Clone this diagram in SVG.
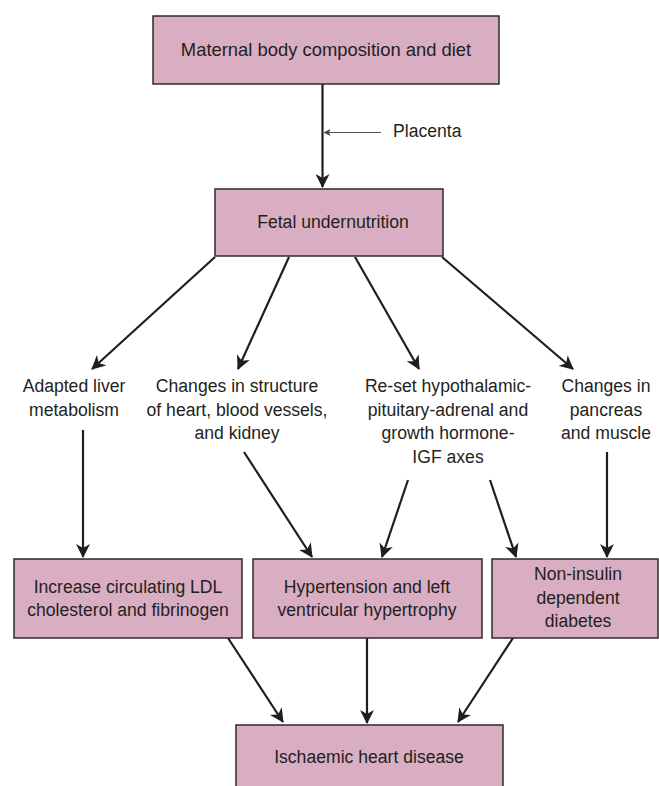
<svg xmlns="http://www.w3.org/2000/svg" width="659" height="786" viewBox="0 0 659 786">
<defs>
<style>
.box{fill:#d9aec3;stroke:#2b2b2b;stroke-width:1.5}
.t{font-family:"Liberation Sans",Arial,sans-serif;font-size:17.6px;fill:#231f20;text-anchor:middle}
.c{stroke:#1e1e1e;stroke-width:2.2;fill:none;marker-end:url(#ah)}
.thin{stroke:#555;stroke-width:1.2;fill:none;marker-end:url(#sh)}
</style>
<marker id="ah" viewBox="0 0 14 14" refX="13" refY="7" markerWidth="14" markerHeight="14" markerUnits="userSpaceOnUse" orient="auto">
<path d="M0,0 L14,7 L0,14 L4,7 z" fill="#1e1e1e"/>
</marker>
<marker id="sh" viewBox="0 0 8 8" refX="7" refY="4" markerWidth="7" markerHeight="7" markerUnits="userSpaceOnUse" orient="auto">
<path d="M0,0 L8,4 L0,8 L2,4 z" fill="#444"/>
</marker>
</defs>
<rect width="659" height="786" fill="#fff"/>
<g id="connectors">
<line class="c" x1="322.5" y1="84" x2="322.5" y2="187"/>
<line class="thin" x1="381" y1="132.5" x2="324.5" y2="132.5"/>
<line class="c" x1="215" y1="257" x2="92" y2="369"/>
<line class="c" x1="289" y1="257" x2="238" y2="369"/>
<line class="c" x1="355" y1="257" x2="419" y2="369"/>
<line class="c" x1="442" y1="257" x2="573" y2="369"/>
<line class="c" x1="83" y1="430" x2="83" y2="557"/>
<line class="c" x1="244" y1="452" x2="312" y2="557"/>
<line class="c" x1="408" y1="480" x2="382" y2="557"/>
<line class="c" x1="490" y1="480" x2="516" y2="557"/>
<line class="c" x1="607" y1="452" x2="607" y2="557"/>
<line class="c" x1="228" y1="638" x2="283" y2="722"/>
<line class="c" x1="367" y1="638" x2="367" y2="723"/>
<line class="c" x1="513" y1="638" x2="458" y2="722"/>
</g>
<g id="maternal">
<rect class="box" x="153" y="16" width="346" height="68"/>
<text class="t" x="326" y="56" style="font-size:18.4px">Maternal body composition and diet</text>
</g>
<g id="placenta">
<text class="t" x="393" y="137" style="text-anchor:start">Placenta</text>
</g>
<g id="fetal">
<rect class="box" x="215" y="189" width="228" height="67"/>
<text class="t" x="333" y="228">Fetal undernutrition</text>
</g>
<g id="liver">
<text class="t" x="74" y="392">Adapted liver</text>
<text class="t" x="74" y="415.5">metabolism</text>
</g>
<g id="structure">
<text class="t" x="237" y="392">Changes in structure</text>
<text class="t" x="237" y="415.5">of heart, blood vessels,</text>
<text class="t" x="237" y="439">and kidney</text>
</g>
<g id="hpa">
<text class="t" x="448" y="392">Re-set hypothalamic-</text>
<text class="t" x="448" y="415.5">pituitary-adrenal and</text>
<text class="t" x="448" y="439">growth hormone-</text>
<text class="t" x="448" y="462.5">IGF axes</text>
</g>
<g id="pancreas">
<text class="t" x="606" y="392">Changes in</text>
<text class="t" x="606" y="415.5">pancreas</text>
<text class="t" x="606" y="439">and muscle</text>
</g>
<g id="ldl">
<rect class="box" x="14" y="559" width="228" height="79"/>
<text class="t" x="128" y="593">Increase circulating LDL</text>
<text class="t" x="128" y="616">cholesterol and fibrinogen</text>
</g>
<g id="hypertension">
<rect class="box" x="253" y="559" width="229" height="79"/>
<text class="t" x="367" y="593">Hypertension and left</text>
<text class="t" x="367" y="616">ventricular hypertrophy</text>
</g>
<g id="diabetes">
<rect class="box" x="492" y="559" width="166" height="79"/>
<text class="t" x="578" y="580">Non-insulin</text>
<text class="t" x="578" y="603.5">dependent</text>
<text class="t" x="578" y="627">diabetes</text>
</g>
<g id="ihd">
<rect class="box" x="236" y="725" width="267" height="70"/>
<text class="t" x="369" y="763">Ischaemic heart disease</text>
</g>
</svg>
